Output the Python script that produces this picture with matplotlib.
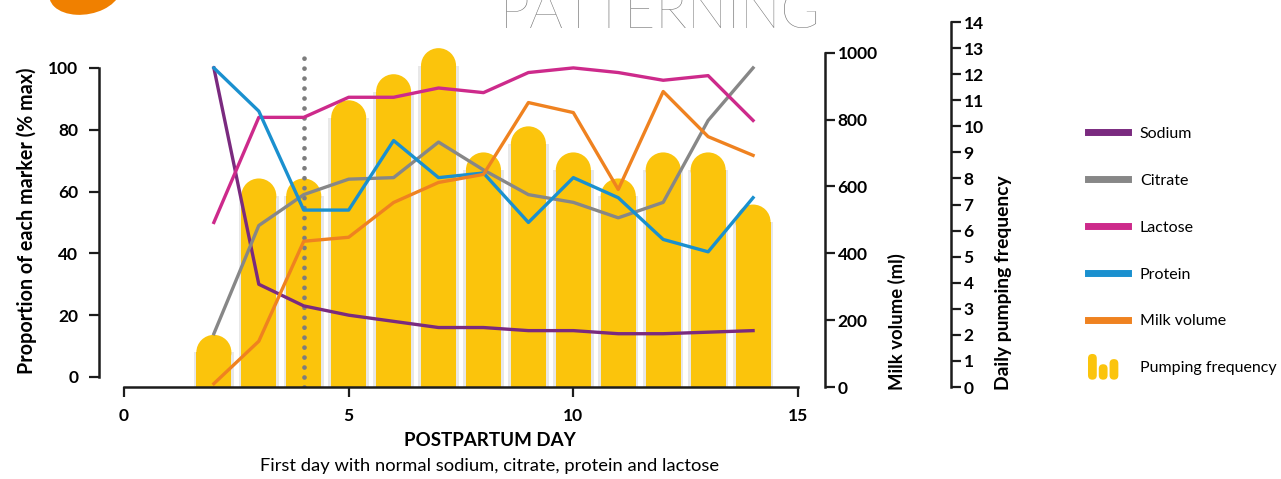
import numpy as np
import matplotlib
matplotlib.use("Agg")
from matplotlib import pyplot as plt
from matplotlib.patches import Rectangle, Ellipse, FancyBboxPatch
from matplotlib.lines import Line2D
from matplotlib.legend_handler import HandlerBase

plt.rcParams['font.family'] = ['Lato', 'DejaVu Sans']

# data
days = [2, 3, 4, 5, 6, 7, 8, 9, 10, 11, 12, 13, 14]
sodium = [100, 30, 23, 20, 18, 16, 16, 15, 15, 14, 14, 14.5, 15]
citrate = [14, 49, 59, 64, 64.5, 76, 67, 59, 56.5, 51.5, 56.5, 83, 100]
lactose = [50, 84, 84, 90.5, 90.5, 93.5, 92, 98.5, 100, 98.5, 96, 97.5, 83]
protein = [100, 86, 54, 54, 76.5, 64.5, 66, 50, 64.5, 58, 44.5, 40.5, 58]
milk_ml = [10, 137, 436, 448, 552, 612, 636, 851, 821, 591, 884, 749, 693]
pumping = [2, 8, 8, 11, 12, 13, 9, 10, 9, 8, 9, 9, 7]
normal_day = 4

x_ticks = [0, 5, 10, 15]
pct_ticks = [0, 20, 40, 60, 80, 100]
ml_ticks = [0, 200, 400, 600, 800, 1000]
pump_ticks = list(range(15))

c_sodium = '#7a2a7f'
c_citrate = '#878787'
c_lactose = '#cd2a8b'
c_protein = '#1a90cf'
c_milk = '#ef8220'
c_bar = '#fbc40c'
c_axis = '#1c1c1c'

W, H = 1281, 479
fig = plt.figure(figsize=(W / 100, H / 100), dpi=100)

# axes box in pixels: x 124..798, y 20..387 (from top)
ax = fig.add_axes([124 / W, 1 - 387 / H, 674 / W, 367 / H])
ax_pump = ax.twinx()
ax_ml = ax.twinx()
ax_pump.set_zorder(1)
ax.set_zorder(2)
ax_ml.set_zorder(3)
for a in (ax, ax_ml):
    a.patch.set_visible(False)

ax.set_xlim(0, 15)
ax.set_ylim(-3.24, 115.5)
ax_pump.set_ylim(0, 14.08)
ax_ml.set_ylim(3, 1098)

# pumping frequency bars with rounded tops
bw = 0.78
ry = 17.5 / (367 / 14.08)
for d, v in zip(days, pumping):
    ax_pump.add_patch(Rectangle((d - bw / 2 - 0.06, 0), bw + 0.12, v - ry,
                                color='#e8e8e8', lw=0, zorder=1))
    ax_pump.add_patch(Rectangle((d - bw / 2, 0), bw, v - ry, color=c_bar,
                                lw=0, zorder=2))
    ax_pump.add_patch(Ellipse((d, v - ry), bw, 2 * ry, color=c_bar, lw=0,
                              zorder=2))

# first day with normal values
ax.plot([normal_day, normal_day], [-3.24, 104], color='#7d7d7d', lw=3.4,
        linestyle=(0, (0.01, 2.1)), dash_capstyle='round', zorder=1)

lw = 2.4
ax.plot(days, sodium, color=c_sodium, lw=lw, zorder=3)
ax.plot(days, citrate, color=c_citrate, lw=lw, zorder=3)
ax.plot(days, lactose, color=c_lactose, lw=lw, zorder=3)
ax.plot(days, protein, color=c_protein, lw=lw, zorder=3)
ax_ml.plot(days, milk_ml, color=c_milk, lw=lw, zorder=3)

tick_font = dict(family=['Lato', 'DejaVu Sans'], weight='bold', size=12.5)

# left axis
for s in ('top', 'right'):
    ax.spines[s].set_visible(False)
ax.spines['left'].set_position(('outward', 18))
ax.spines['left'].set_bounds(0, 100)
ax.spines['bottom'].set_bounds(0, 15)
for s in ('left', 'bottom'):
    ax.spines[s].set_linewidth(1.8)
    ax.spines[s].set_color(c_axis)
ax.set_yticks(pct_ticks)
ax.set_xticks(x_ticks)
ax.tick_params(axis='both', length=7, width=1.6, color=c_axis, pad=8)
ax.set_yticklabels([str(t) for t in pct_ticks], fontdict=tick_font)
ax.set_xticklabels([str(t) for t in x_ticks], fontdict=tick_font)

# right axes
for a, off, ticks in ((ax_ml, 1 + 27 / 674, ml_ticks),
                      (ax_pump, 1 + 153 / 674, pump_ticks)):
    for s in ('top', 'left', 'bottom'):
        a.spines[s].set_visible(False)
    a.spines['right'].set_position(('axes', off))
    a.spines['right'].set_bounds(ticks[0], ticks[-1])
    a.spines['right'].set_linewidth(1.8)
    a.spines['right'].set_color(c_axis)
    a.set_yticks(ticks)
    a.tick_params(axis='y', length=7, width=1.6, color=c_axis, pad=2)
    a.set_yticklabels([str(t) for t in ticks], fontdict=tick_font)

# axis titles
fig.text(27 / W, 1 - 221 / H, 'Proportion of each marker (% max)', rotation=90,
         ha='center', va='center', fontsize=14.2, fontweight='bold')
fig.text(897 / W, 1 - 390 / H, 'Milk volume (ml)', rotation=90,
         ha='center', va='bottom', fontsize=13.3, fontweight='bold')
fig.text(1003 / W, 1 - 390 / H, 'Daily pumping frequency', rotation=90,
         ha='center', va='bottom', fontsize=13.9, fontweight='bold')
fig.text(490 / W, 1 - 440 / H, 'POSTPARTUM DAY', ha='center', va='center',
         fontsize=13.5, fontweight='bold')
fig.text(490 / W, 1 - 466 / H,
         'First day with normal sodium, citrate, protein and lactose',
         ha='center', va='center', fontsize=13.2)

# page title remnants at the top
fig.text(660 / W, 1 - 28 / H, 'PATTERNING', ha='center', va='baseline',
         fontsize=38.5, color='#6f6f6f', fontweight='light')
fig.add_artist(Ellipse((85 / W, 1 + 8 / H), 70 / W, 46 / H, angle=-8,
                       color='#f08000', lw=0, transform=fig.transFigure))


class PumpHandler(HandlerBase):
    def create_artists(self, legend, orig_handle, xdescent, ydescent, width,
                       height, fontsize, trans):
        arts = []
        bwid = width * 0.22
        y0 = -ydescent - height * 0.65
        for i, f in enumerate([1.0, 0.6, 0.8]):
            x0 = -xdescent + i * width * 0.27
            h = height * 2.3 * f
            p = FancyBboxPatch((x0, y0), bwid, h,
                               boxstyle='round,pad=0,rounding_size=%f' % (bwid / 2),
                               color=c_bar, lw=0, transform=trans)
            arts.append(p)
        return arts


handles = [Line2D([], [], color=c, lw=5) for c in
           (c_sodium, c_citrate, c_lactose, c_protein, c_milk)]
handles.append(Rectangle((0, 0), 1, 1, color=c_bar))
labels = ['Sodium', 'Citrate', 'Lactose', 'Protein', 'Milk volume',
          'Pumping frequency']
fig.legend(handles, labels, loc='center left',
           bbox_to_anchor=(1088 / W, 1 - 251 / H), frameon=False,
           fontsize=11.5, handlelength=2.5, handletextpad=0.75,
           labelspacing=2.05, borderpad=0, borderaxespad=0,
           handler_map={Rectangle: PumpHandler()})

fig.savefig('out.png', dpi=100)
